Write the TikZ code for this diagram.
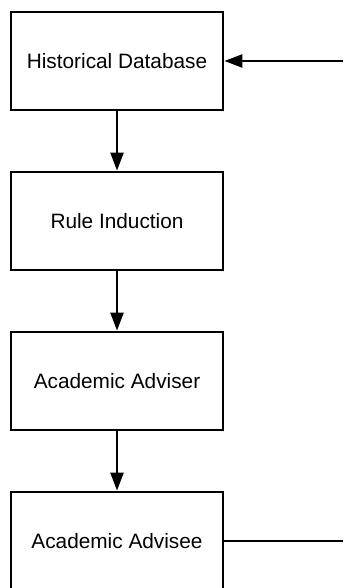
\documentclass[tikz,border=0pt]{standalone}
\usepackage{fontspec}
\setmainfont{Liberation Sans}
\usetikzlibrary{positioning}
\usetikzlibrary{arrows.meta}

\tikzset{
  stagebox/.style={draw,line width=1.4pt,minimum width=106pt,minimum height=49pt,
    inner sep=0pt,font=\fontsize{10.4}{12}\selectfont},
  flowline/.style={line width=1.2pt,-{Triangle[length=9pt,width=6.5pt]}},
}

\begin{document}
\begin{tikzpicture}[x=0.5pt,y=-0.5pt,node distance=29.6pt]
  \useasboundingbox (0,0) rectangle (343,588);

  % the four stages
  \node[stagebox] at (117,61) (hist) {Historical Database};
  \node[stagebox,below=of hist] (rule) {Rule Induction};
  \node[stagebox,below=of rule] (adviser) {Academic Adviser};
  \node[stagebox,below=of adviser] (advisee) {Academic Advisee};

  % down the chain
  \draw[flowline] (hist) -- (rule);
  \draw[flowline] (rule) -- (adviser);
  \draw[flowline] (adviser) -- (advisee);

  % feedback on the right
  \coordinate (backin) at (343,61);
  \coordinate (backout) at (343,540);
  \draw[flowline] (backin) -- (hist.east);
  \draw[line width=1.2pt] (advisee.east) -- (advisee.east -| backout);

\end{tikzpicture}
\end{document}
